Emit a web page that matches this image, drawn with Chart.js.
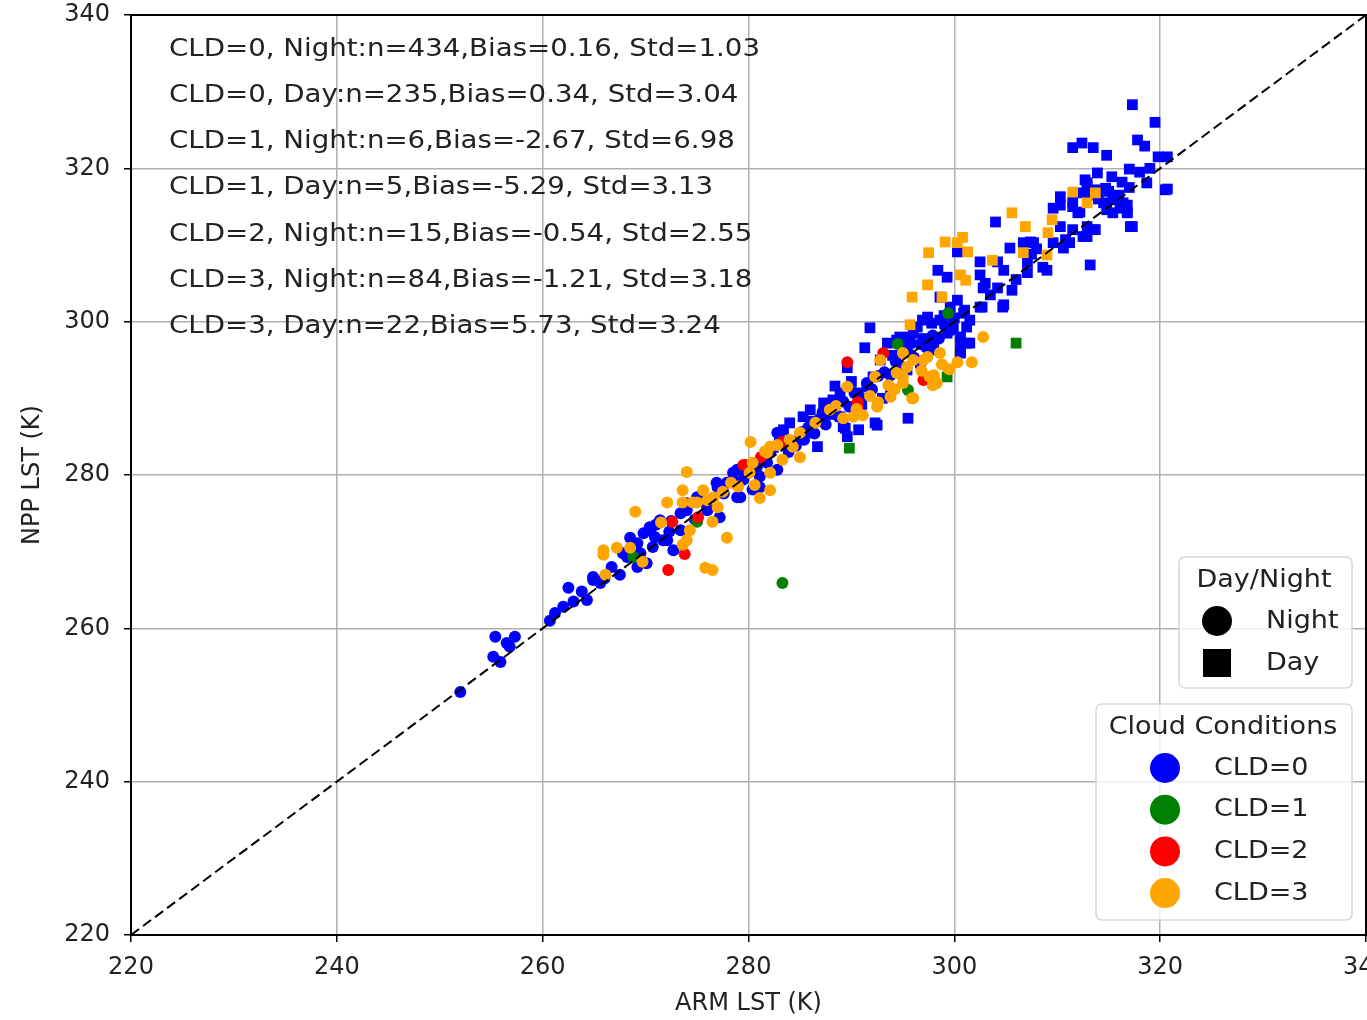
<!DOCTYPE html>
<html>
<head>
<meta charset="utf-8">
<script src="https://cdn.jsdelivr.net/npm/chart.js@4.4.1/dist/chart.umd.min.js"></script>
<style>
  html, body { margin: 0; padding: 0; background: #fff; overflow: hidden; }
  #wrap { width: 1400px; height: 1020px; }
</style>
</head>
<body>
<div id="wrap"><canvas id="lstChart" width="1400" height="1020"></canvas></div>
<script>
// axis ticks
const xTicks = [220, 240, 260, 280, 300, 320, 340];
const yTicks = [220, 240, 260, 280, 300, 320, 340];

// [ARM LST, NPP LST] pairs
const cld0Night = [
  [252.0,251.7],[255.2,256.3],[255.9,255.6],[255.4,258.9],[256.5,258.1],[257.3,258.9],[256.8,257.6],
  [260.7,261.0],[261.2,262.0],[262.0,262.8],[262.5,265.3],[263.8,264.8],[264.3,263.7],[264.9,266.3],
  [265.6,265.9],[264.9,266.7],[266.7,268.0],[266.0,266.5],[267.5,267.0],[268.2,269.3],[268.5,271.8],
  [269.2,271.1],[269.5,269.8],[269.8,272.4],[270.4,273.2],[270.4,272.8],[270.7,270.6],[271.4,274.1],
  [271.7,271.5],[272.1,271.5],[272.7,270.2],[269.2,268.0],[270.1,268.5],[273.4,275.0],[273.4,272.8],
  [274.0,275.4],[274.0,276.3],[275.0,277.1],[276.0,275.8],[276.0,275.4],[277.0,278.4],[277.2,274.5],
  [276.9,279.0],[277.6,277.6],[277.9,279.0],[278.5,279.3],[278.5,280.3],[278.9,277.1],[279.2,277.1],
  [279.5,279.4],[278.9,280.7],[280.4,278.1],[280.8,281.0],[281.1,279.8],[281.1,278.4],[281.4,282.0],
  [281.8,281.6],[282.1,282.9],[282.8,280.7],[282.8,285.5],[283.4,284.0],[284.0,284.5],[284.6,283.8],
  [285.2,285.6],[285.8,286.2],[286.4,285.4],[286.9,287.3],[287.5,286.6],[288.1,288.4],[288.6,287.8],
  [289.2,289.6],[289.8,288.9],[290.3,290.7],[290.9,290.1],[291.5,292.0],[292.0,291.2],[292.6,292.9],
  [293.2,293.4],[293.8,293.0],[294.3,294.8],[294.9,294.1],[295.5,296.0],[296.1,295.3],[296.7,297.1],
  [297.3,296.6],[297.9,298.2],[298.5,297.8],[299.1,299.4],[299.7,298.9],[271.0,273.5],[272.5,274.0],
  [267.8,269.8],[263.0,263.5],[270.9,271.9],[272.3,272.6],[274.8,274.2],[275.6,276.5],[279.8,280.2],
  [283.9,283.0],[285.4,284.6],[287.2,288.2],[288.8,289.9]
];
const cld0Day = [
  [280.4,280.9],[281.4,282.3],[282.4,283.6],[283.4,285.9],[284.0,286.8],[285.0,285.0],[285.3,287.6],
  [285.7,285.5],[286.0,288.5],[286.7,283.7],[287.3,289.4],[288.2,289.8],[288.9,290.7],[288.9,287.6],
  [289.2,286.3],[289.4,286.1],[289.6,285.0],[289.6,294.0],[290.6,290.7],[290.7,285.9],[291.3,296.6],
  [291.5,291.5],[291.8,299.2],[292.1,292.8],[292.3,286.8],[292.5,286.5],[292.8,295.0],[293.5,297.2],
  [293.8,290.7],[294.4,297.6],[295.4,293.7],[295.5,287.4],[295.7,298.0],[296.7,294.6],[296.9,300.2],
  [297.8,299.8],[297.9,296.3],[298.6,300.2],[299.3,298.5],[299.6,301.9],[300.6,297.3],[300.6,296.0],
  [301.5,297.2],[301.5,300.2],[302.7,301.9],[304.7,301.9],
  [304.0,313.0],[298.4,306.7],[299.3,305.8],[300.3,309.1],[302.5,307.8],[302.5,306.1],[304.2,307.8],
  [304.8,306.7],[302.8,304.4],[304.2,304.4],[305.6,304.1],[304.8,302.2],[302.5,301.9],[305.4,309.6],
  [306.7,310.3],[307.7,310.3],[307.1,307.8],[307.1,306.4],[308.6,307.1],[309.0,306.7],[309.6,310.3],
  [310.6,309.6],[310.8,310.7],[310.3,312.4],[311.5,312.0],[312.9,311.1],[313.5,312.0],[313.2,307.4],
  [310.3,316.3],[310.3,315.2],[311.5,315.0],[312.2,314.3],[312.2,316.8],[312.9,318.1],[314.8,314.6],
  [315.4,315.9],[316.4,315.5],[316.8,314.2],[315.4,314.2],[317.1,312.4],[318.7,318.1],[320.5,317.2],
  [300.3,302.8],[300.9,301.1],[298.6,303.2],[297.4,300.6],[301.2,299.3],[300.6,298.0],[301.2,297.2],
  [300.6,295.9],[299.9,299.3],[296.4,299.3],[294.7,298.0],[295.7,297.2],
  [317.3,328.3],[319.5,326.0],[311.5,322.7],[312.4,323.3],[313.5,322.7],[314.8,321.7],[317.8,323.7],
  [318.5,322.9],[319.8,321.5],[320.7,321.5],[320.7,317.3],[317.0,319.9],[313.9,319.4],[312.7,318.5],
  [315.3,318.9],[316.3,318.2],[314.7,317.4],[311.5,315.6],[309.6,314.8],[312.0,314.2],[314.5,315.5],
  [316.1,314.8],[316.8,315.2],[316.8,314.3],[317.3,312.4],[312.9,312.4],[313.7,312.0],[312.5,311.1],
  [311.2,310.3],[307.4,310.4],[313.9,317.2],[312.9,317.6],
  [283.0,284.8],[284.6,284.2],[286.2,287.0],[287.8,287.9],[288.4,291.6],[290.0,292.2],[291.0,289.2],
  [293.0,290.0],[294.0,295.6],[295.0,296.8],[296.0,298.5],[297.0,297.8],[298.0,297.0],[299.0,300.8],
  [300.0,300.5],[301.0,301.5],[303.5,303.5],[303.0,305.0],[306.0,305.5],[307.5,308.8],[308.0,309.5],
  [313.0,316.5],[314.0,316.0],[315.0,317.0],[316.0,316.5],[317.0,317.5],[318.0,319.5],[319.0,320.0]
];
const cld1Night = [
  [283.3,265.9],[299.4,301.1],[294.5,297.1],[295.5,291.1],[268.8,269.3],[275.0,273.9]
];
const cld1Day = [
  [306.0,297.2],[289.8,283.5],[299.3,292.8]
];
const cld2Night = [
  [289.6,294.7],[293.1,295.9],[297.0,292.4],[290.6,289.5],[290.6,288.9],[283.3,284.3],[279.7,281.3],
  [272.6,273.9],[275.1,274.5],[273.8,269.7],[272.2,267.6],[279.5,281.3],[281.2,282.3]
];
const cld3Night = [
  [274.0,280.4],[273.6,278.0],[275.6,278.0],[272.1,276.4],[273.6,276.4],[275.0,276.4],[276.6,277.1],
  [277.0,275.8],[269.0,275.2],[276.5,273.9],[277.9,271.8],[274.3,272.8],[274.0,271.5],[273.6,270.9],
  [265.9,270.2],[265.9,269.6],[267.2,270.5],[268.5,270.5],[269.7,268.7],[266.1,267.0],[275.8,267.9],
  [276.5,267.6],[280.2,284.3],[280.6,278.7],[281.1,277.0],[282.1,278.0],[282.1,280.3],[280.1,280.3],
  [281.8,282.9],[282.8,283.9],[280.4,281.6],[277.5,277.8],[276.0,276.7],[274.6,276.4],[289.6,291.5],
  [287.9,288.5],[289.2,287.4],[290.2,287.6],[291.1,287.8],[292.5,288.9],[292.6,289.5],[293.8,290.2],
  [293.6,291.7],[294.4,293.3],[295.0,292.8],[295.4,294.1],[296.0,295.0],[295.0,292.0],[296.0,290.0],
  [297.0,295.0],[297.4,295.4],[298.6,295.9],[298.8,294.4],[297.6,292.8],[298.3,292.0],[292.8,295.0],
  [292.3,292.8],[295.0,295.9],[285.0,285.5],[284.0,284.6],[284.3,283.7],[285.0,282.3],[282.1,283.7],
  [281.6,283.1],[302.8,298.0],[301.7,294.7],[300.3,294.7],[297.9,291.7],[295.9,290.0],[278.3,279.0],
  [279.0,278.5],[283.3,282.0],[286.5,286.8],[288.5,289.0],[290.5,288.6],[291.8,290.3],[294.2,291.2],
  [296.8,293.6],[299.5,293.8],[298.0,293.0],[271.5,273.8]
];
const cld3Day = [
  [305.6,314.2],[306.9,312.4],[309.1,311.6],[309.5,313.3],[311.5,316.9],[313.7,316.8],[312.9,315.5],
  [300.8,311.0],[300.3,310.3],[299.1,310.4],[301.3,309.1],[297.5,309.0],[303.7,308.0],[306.7,309.0],
  [309.0,308.7],[300.6,306.1],[301.1,305.4],[297.4,304.8],[295.9,303.2],[298.8,303.2],[295.7,299.6]
];

const statLines = [
  'CLD=0, Night:n=434,Bias=0.16, Std=1.03',
  'CLD=0, Day:n=235,Bias=0.34, Std=3.04',
  'CLD=1, Night:n=6,Bias=-2.67, Std=6.98',
  'CLD=1, Day:n=5,Bias=-5.29, Std=3.13',
  'CLD=2, Night:n=15,Bias=-0.54, Std=2.55',
  'CLD=3, Night:n=84,Bias=-1.21, Std=3.18',
  'CLD=3, Day:n=22,Bias=5.73, Std=3.24'
];
const dayNightLabels = ['Night', 'Day'];
const cloudLabels = ['CLD=0', 'CLD=1', 'CLD=2', 'CLD=3'];
const cloudColors = ['#0000ff', '#008000', '#ff0000', '#ffa500'];

const FONT = '"DejaVu Sans", sans-serif';
const TEXT = '#222';
const toXY = arr => arr.map(p => ({ x: p[0], y: p[1] }));

const scatter = (data, color, night) => ({
  type: 'scatter',
  data: toXY(data),
  backgroundColor: color,
  borderWidth: 0,
  pointStyle: night ? 'circle' : 'rect',
  pointRadius: night ? 6 : 7.6,
  pointHoverRadius: night ? 6 : 7.6
});

// text in the picture is a little wider than DejaVu, so stretch it sideways
const wideText = (ctx, t, x, y, align, sx) => {
  ctx.save();
  ctx.translate(x, y);
  ctx.scale(sx, 1);
  ctx.textAlign = align;
  ctx.fillText(t, 0, 0);
  ctx.restore();
};

// frame, stats text and the two legend boxes
const extras = {
  id: 'extras',
  beforeDatasetsDraw(chart) {
    const ctx = chart.ctx;
    ctx.save();
    ctx.fillStyle = TEXT;
    ctx.font = '25px ' + FONT;
    ctx.textBaseline = 'middle';
    const sx = 591 / ctx.measureText(statLines[0]).width;
    statLines.forEach((t, i) => {
      wideText(ctx, t, 169, 49 + i * 46.3, 'left', sx);
    });
    ctx.restore();
  },
  afterDraw(chart) {
    const ctx = chart.ctx;
    const a = chart.chartArea;
    ctx.save();
    ctx.strokeStyle = '#000';
    ctx.lineWidth = 2;
    ctx.strokeRect(a.left, a.top, a.right - a.left, a.bottom - a.top);

    const box = (x, y, w, h) => {
      ctx.beginPath();
      ctx.roundRect(x, y, w, h, 6);
      ctx.fillStyle = 'rgba(255,255,255,0.8)';
      ctx.fill();
      ctx.strokeStyle = '#d6d6d6';
      ctx.lineWidth = 1.5;
      ctx.stroke();
    };
    ctx.font = '25px ' + FONT;
    ctx.textBaseline = 'middle';
    const sx = 1.08;

    // Day/Night box
    box(1179, 557, 173, 131);
    ctx.fillStyle = TEXT;
    wideText(ctx, 'Day/Night', 1264, 580, 'center', sx);
    ctx.fillStyle = '#000';
    ctx.beginPath();
    ctx.arc(1217, 621, 15, 0, Math.PI * 2);
    ctx.fill();
    ctx.fillRect(1203, 649, 28, 28);
    ctx.fillStyle = TEXT;
    wideText(ctx, dayNightLabels[0], 1266, 621, 'left', sx);
    wideText(ctx, dayNightLabels[1], 1266, 663, 'left', sx);

    // Cloud Conditions box
    box(1096, 704, 256, 216);
    ctx.fillStyle = TEXT;
    wideText(ctx, 'Cloud Conditions', 1223, 727, 'center', sx);
    cloudLabels.forEach((lab, i) => {
      const cy = 768 + i * 41.7;
      ctx.fillStyle = cloudColors[i];
      ctx.beginPath();
      ctx.arc(1165, cy, 15, 0, Math.PI * 2);
      ctx.fill();
      ctx.fillStyle = TEXT;
      wideText(ctx, lab, 1214, cy, 'left', sx);
    });
    ctx.restore();
  }
};

new Chart(document.getElementById('lstChart'), {
  type: 'scatter',
  data: {
    datasets: [
      {
        type: 'line',
        data: [{ x: 220, y: 220 }, { x: 340, y: 340 }],
        borderColor: '#000',
        borderWidth: 2,
        borderDash: [10, 5],
        pointRadius: 0,
        fill: false
      },
      scatter(cld3Day, cloudColors[3], false),
      scatter(cld3Night, cloudColors[3], true),
      scatter(cld2Night, cloudColors[2], true),
      scatter(cld1Day, cloudColors[1], false),
      scatter(cld1Night, cloudColors[1], true),
      scatter(cld0Day, cloudColors[0], false),
      scatter(cld0Night, cloudColors[0], true)
    ]
  },
  options: {
    responsive: false,
    animation: false,
    layout: { padding: { top: 15, right: 34, bottom: 0, left: 0 } },
    plugins: { legend: { display: false }, tooltip: { enabled: false } },
    scales: {
      x: {
        type: 'linear',
        min: 220,
        max: 340,
        afterBuildTicks: s => { s.ticks = xTicks.map(v => ({ value: v })); },
        afterFit: s => { s.height = 85; },
        ticks: { font: { family: FONT, size: 24 }, color: TEXT, padding: 11 },
        grid: { color: '#b0b0b0', lineWidth: 1.5, tickColor: '#000', tickLength: 7 },
        border: { color: '#000', width: 2 },
        title: { display: true, text: 'ARM LST (K)', font: { family: FONT, size: 24 }, color: TEXT, padding: { top: 0, bottom: 2 } }
      },
      y: {
        type: 'linear',
        min: 220,
        max: 340,
        afterBuildTicks: s => { s.ticks = yTicks.map(v => ({ value: v })); },
        afterFit: s => { s.width = 131; s.paddingTop = 0; s.paddingBottom = 0; },
        ticks: { font: { family: FONT, size: 24 }, color: TEXT, padding: 14 },
        grid: { color: '#b0b0b0', lineWidth: 1.5, tickColor: '#000', tickLength: 7 },
        border: { color: '#000', width: 2 },
        title: { display: true, text: 'NPP LST (K)', font: { family: FONT, size: 24 }, color: TEXT, padding: { top: 18, bottom: 0 } }
      }
    }
  },
  plugins: [extras]
});
</script>
</body>
</html>
